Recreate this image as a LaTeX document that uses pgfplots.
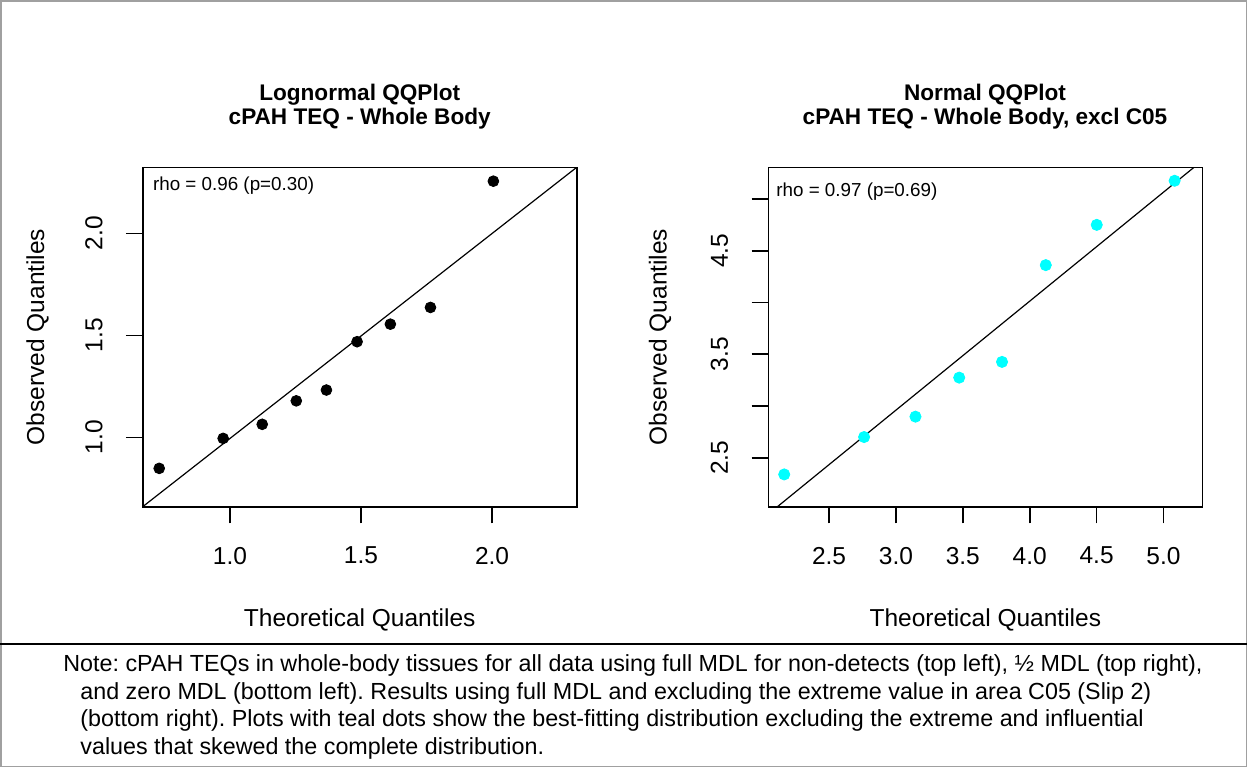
\documentclass[border=0pt]{standalone}
\usepackage{fontspec}
\setmainfont{Liberation Sans}
\usepackage{pgfplots}
\usepackage{pgfplotstable}
\pgfplotsset{compat=1.18}
\frenchspacing

\definecolor{qqcyan}{RGB}{0,255,255}
\definecolor{framegray}{RGB}{160,160,160}

\newcommand\axfont{\fontsize{12.25pt}{14pt}\selectfont}
\newcommand\ttlfont{\bfseries\fontsize{11.3pt}{13pt}\selectfont}
\newcommand\rhofont{\fontsize{9.4pt}{11pt}\selectfont}
\newcommand\notefont{\fontsize{11.65pt}{13.8pt}\selectfont}

% Q-Q data: theoretical quantile, observed quantile
\pgfplotstableread{
x y
0.730 0.848
0.974 0.995
1.123 1.064
1.253 1.179
1.368 1.232
1.485 1.469
1.612 1.555
1.765 1.637
2.005 2.256
}\lognormqq
\pgfplotstableread{
x y
2.165 2.339
2.762 2.700
3.146 2.897
3.473 3.274
3.793 3.426
4.120 4.361
4.501 4.750
5.083 5.176
}\normqq

\pgfplotsset{
  qqpanel/.style={
    scale only axis, width=217pt, height=169.7pt,
    axis line style={line width=0.8pt},
    tick style={line width=0.8pt, black},
    major tick length=8.35pt, tick align=outside, tick pos=left,
    ticklabel style={font=\axfont},
    label style={font=\axfont},
    xticklabel style={anchor=north, inner sep=0pt},
    yticklabel style={rotate=90, anchor=south, inner sep=0pt},
    xticklabel shift=11.65pt, yticklabel shift=11.5pt,
    xlabel style={at={(axis description cs:0.5,-0.3515)}, anchor=base, inner sep=0pt},
  },
}

\begin{document}
\begin{tikzpicture}
\useasboundingbox (0,0) rectangle (623.5pt,-383.5pt);
\draw[framegray, line width=0.75pt]
  (0.375pt,-0.375pt) rectangle (623.125pt,-383.125pt);
\draw[line width=1pt] (0,-322.15pt) -- (623.5pt,-322.15pt);

% left panel: lognormal
\begin{axis}[qqpanel, at={(71.35pt,-83.65pt)}, anchor=north west,
  xmin=0.667, xmax=2.323, ymin=0.660, ymax=2.324,
  xtick={1,1.5,2}, xticklabels={1.0,1.5,2.0},
  ytick={1,1.5,2}, yticklabels={1.0,1.5,2.0},
  xlabel={Theoretical Quantiles}, ylabel={Observed Quantiles},
  ylabel style={at={(axis description cs:-0.2274,0.5)}, anchor=base, inner sep=0pt}]
\addplot[only marks, mark=*, mark size=2.7pt, black] table[x=x,y=y] {\lognormqq};
\addplot[black, line width=0.6pt] coordinates {(0.667,0.660) (2.323,2.324)};
\end{axis}

% right panel: normal, excluding C05
\begin{axis}[qqpanel, at={(384.15pt,-83.65pt)}, anchor=north west,
  xmin=2.046, xmax=5.290, ymin=2.027, ymax=5.306,
  xtick={2.5,3,3.5,4,4.5,5}, xticklabels={2.5,3.0,3.5,4.0,4.5,5.0},
  ytick={2.5,3,3.5,4,4.5,5}, yticklabels={2.5,,3.5,,4.5,},
  xlabel={Theoretical Quantiles}, ylabel={Observed Quantiles},
  ylabel style={at={(axis description cs:-0.2343,0.5)}, anchor=base, inner sep=0pt}]
\addplot[only marks, mark=*, mark size=2.8pt, qqcyan, mark options={draw=qqcyan, fill=qqcyan}] table[x=x,y=y] {\normqq};
\addplot[black, line width=0.6pt] coordinates {(2.114,2.027) (5.228,5.306)};
\end{axis}

\begin{scope}[x=0.5pt, y=-0.5pt]
\node[anchor=base, inner sep=0pt, font=\ttlfont] at (359.7,100) {Lognormal QQPlot};
\node[anchor=base, inner sep=0pt, font=\ttlfont] at (359.7,124.3) {cPAH TEQ - Whole Body};
\node[anchor=base, inner sep=0pt, font=\ttlfont] at (985,100) {Normal QQPlot};
\node[anchor=base, inner sep=0pt, font=\ttlfont] at (985,124.3) {cPAH TEQ - Whole Body, excl C05};
\node[anchor=base west, inner sep=0pt, font=\rhofont] at (152.7,190.7) {rho = 0.96 (p=0.30)};
\node[anchor=base west, inner sep=0pt, font=\rhofont] at (776,196) {rho = 0.97 (p=0.69)};
\node[anchor=base west, inner sep=0pt, font=\notefont] at (63,671.7)
  {Note: cPAH TEQs in whole-body tissues for all data using full MDL for non-detects (top left), ½ MDL (top right),};
\node[anchor=base west, inner sep=0pt, font=\notefont] at (80,699.3)
  {and zero MDL (bottom left). Results using full MDL and excluding the extreme value in area C05 (Slip 2)};
\node[anchor=base west, inner sep=0pt, font=\notefont] at (80,726.9)
  {(bottom right). Plots with teal dots show the best-fitting distribution excluding the extreme and influential};
\node[anchor=base west, inner sep=0pt, font=\notefont] at (80,754.5)
  {values that skewed the complete distribution.};
\end{scope}
\end{tikzpicture}
\end{document}
